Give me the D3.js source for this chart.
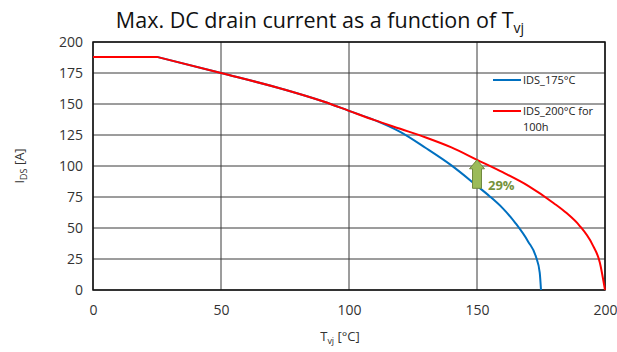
<!DOCTYPE html>
<html>
<head>
<meta charset="utf-8">
<script src="https://cdn.jsdelivr.net/npm/d3@7"></script>
<style>
  body { margin: 0; background: #fff; }
  svg { display: block; font-family: "Open Sans", sans-serif; }
</style>
</head>
<body>
<svg id="chart"></svg>
<script>
// Temperature / current readings (Tvj in °C, IDS in A)
const tempsRed = [0, 25, 50, 75, 90, 100, 110, 120, 130, 140, 150, 160, 170, 180, 185, 190, 195, 198, 200];
const currentRed = [188, 188, 175, 161.5, 152, 144.5, 137, 130, 123, 115, 105, 95, 84, 70, 62, 52, 37, 22, 0];
const tempsBlue = [0, 25, 50, 75, 90, 100, 110, 120, 130, 140, 150, 155, 160, 165, 170, 173, 174.5, 175];
const currentBlue = [188, 188, 175, 161.5, 152, 144.5, 137, 127.5, 114.5, 100.5, 84, 75.5, 66, 54, 39, 27, 14, 0];
const seriesNames = ['IDS_175°C', 'IDS_200°C for'];
const xTicks = [0, 50, 100, 150, 200];
const yTicks = [0, 25, 50, 75, 100, 125, 150, 175, 200];
const arrowFrom = [150, 82];
const arrowTo = [150, 105];
const arrowLabel = '29%';

const width = 617, height = 352;
const margin = { left: 93, right: 12, top: 42, bottom: 62 };

const svg = d3.select('#chart').attr('width', width).attr('height', height);

const x = d3.scaleLinear().domain([0, 200]).range([margin.left, width - margin.right]);
const y = d3.scaleLinear().domain([0, 200]).range([height - margin.bottom, margin.top]);

// grid
svg.append('g').selectAll('line').data(yTicks).join('line')
  .attr('x1', x(0)).attr('x2', x(200))
  .attr('y1', d => y(d)).attr('y2', d => y(d))
  .attr('stroke', '#3a3a3a').attr('stroke-width', 1);
svg.append('g').selectAll('line').data(xTicks).join('line')
  .attr('x1', d => x(d)).attr('x2', d => x(d))
  .attr('y1', y(0)).attr('y2', y(200))
  .attr('stroke', '#3a3a3a').attr('stroke-width', 1);

// axes (labels only, the grid draws the lines)
const yAxis = svg.append('g').attr('transform', `translate(${x(0)},0)`)
  .call(d3.axisLeft(y).tickValues(yTicks).tickSize(0).tickPadding(10));
const xAxis = svg.append('g').attr('transform', `translate(0,${y(0)})`)
  .call(d3.axisBottom(x).tickValues(xTicks).tickSize(0).tickPadding(15));
[yAxis, xAxis].forEach(a => {
  a.select('.domain').remove();
  a.selectAll('text').attr('font-size', 14).attr('fill', '#333').attr('font-family', '"Open Sans", sans-serif');
});

// frame
svg.append('rect')
  .attr('x', x(0)).attr('y', y(200))
  .attr('width', x(200) - x(0)).attr('height', y(0) - y(200))
  .attr('fill', 'none').attr('stroke', '#111').attr('stroke-width', 1.5);

// curves: straight flat part, then a smooth curve from the kink at 25 °C
const line = d3.line().x(d => x(d[0])).y(d => y(d[1])).curve(d3.curveMonotoneX);
function curvePath(pts) {
  return `M${x(pts[0][0])},${y(pts[0][1])}L` + line(pts.slice(1)).slice(1);
}
const blue = tempsBlue.map((t, i) => [t, currentBlue[i]]);
const red = tempsRed.map((t, i) => [t, currentRed[i]]);
svg.append('path').attr('d', curvePath(blue))
  .attr('fill', 'none').attr('stroke', '#0070C0').attr('stroke-width', 2);
svg.append('path').attr('d', curvePath(red))
  .attr('fill', 'none').attr('stroke', '#FF0000').attr('stroke-width', 2);

// arrow
const ax = x(arrowFrom[0]), yb = y(arrowFrom[1]), yt = y(arrowTo[1]);
const headH = 9, headW = 7.5, shaftW = 4.5;
svg.append('path')
  .attr('d', `M${ax - shaftW},${yb} L${ax - shaftW},${yt + headH} L${ax - headW},${yt + headH} L${ax},${yt} L${ax + headW},${yt + headH} L${ax + shaftW},${yt + headH} L${ax + shaftW},${yb} Z`)
  .attr('fill', '#9BBB59').attr('stroke', '#71893F').attr('stroke-width', 1);
svg.append('text')
  .attr('x', ax + 11).attr('y', yb + 2)
  .attr('font-size', 13).attr('font-weight', 'bold').attr('fill', '#76923C')
  .text(arrowLabel);

// legend
const lg = svg.append('g').attr('font-size', 11).attr('fill', '#222');
lg.append('line').attr('x1', 493).attr('x2', 521).attr('y1', 80).attr('y2', 80)
  .attr('stroke', '#0070C0').attr('stroke-width', 2);
lg.append('text').attr('x', 523).attr('y', 84).text(seriesNames[0]);
lg.append('line').attr('x1', 493).attr('x2', 521).attr('y1', 111).attr('y2', 111)
  .attr('stroke', '#FF0000').attr('stroke-width', 2);
lg.append('text').attr('x', 523).attr('y', 115).text(seriesNames[1]);
lg.append('text').attr('x', 523).attr('y', 131).text('100h');

// title
const title = svg.append('text').attr('x', 320).attr('y', 28)
  .attr('text-anchor', 'middle').attr('font-size', 21.5).attr('fill', '#111');
title.append('tspan').text('Max. DC drain current as a function of T');
title.append('tspan').attr('font-size', 14).attr('dy', 5).text('vj');

// axis titles
const xt = svg.append('text').attr('x', 340).attr('y', 341)
  .attr('text-anchor', 'middle').attr('font-size', 13).attr('fill', '#333');
xt.append('tspan').text('T');
xt.append('tspan').attr('font-size', 9).attr('dy', 3).text('vj');
xt.append('tspan').attr('dy', -3).text(' [°C]');

const yt2 = svg.append('text').attr('transform', 'translate(24,166) rotate(-90)')
  .attr('text-anchor', 'middle').attr('font-size', 13).attr('fill', '#333');
yt2.append('tspan').text('I');
yt2.append('tspan').attr('font-size', 9).attr('dy', 3).text('DS');
yt2.append('tspan').attr('dy', -3).text(' [A]');
</script>
</body>
</html>
